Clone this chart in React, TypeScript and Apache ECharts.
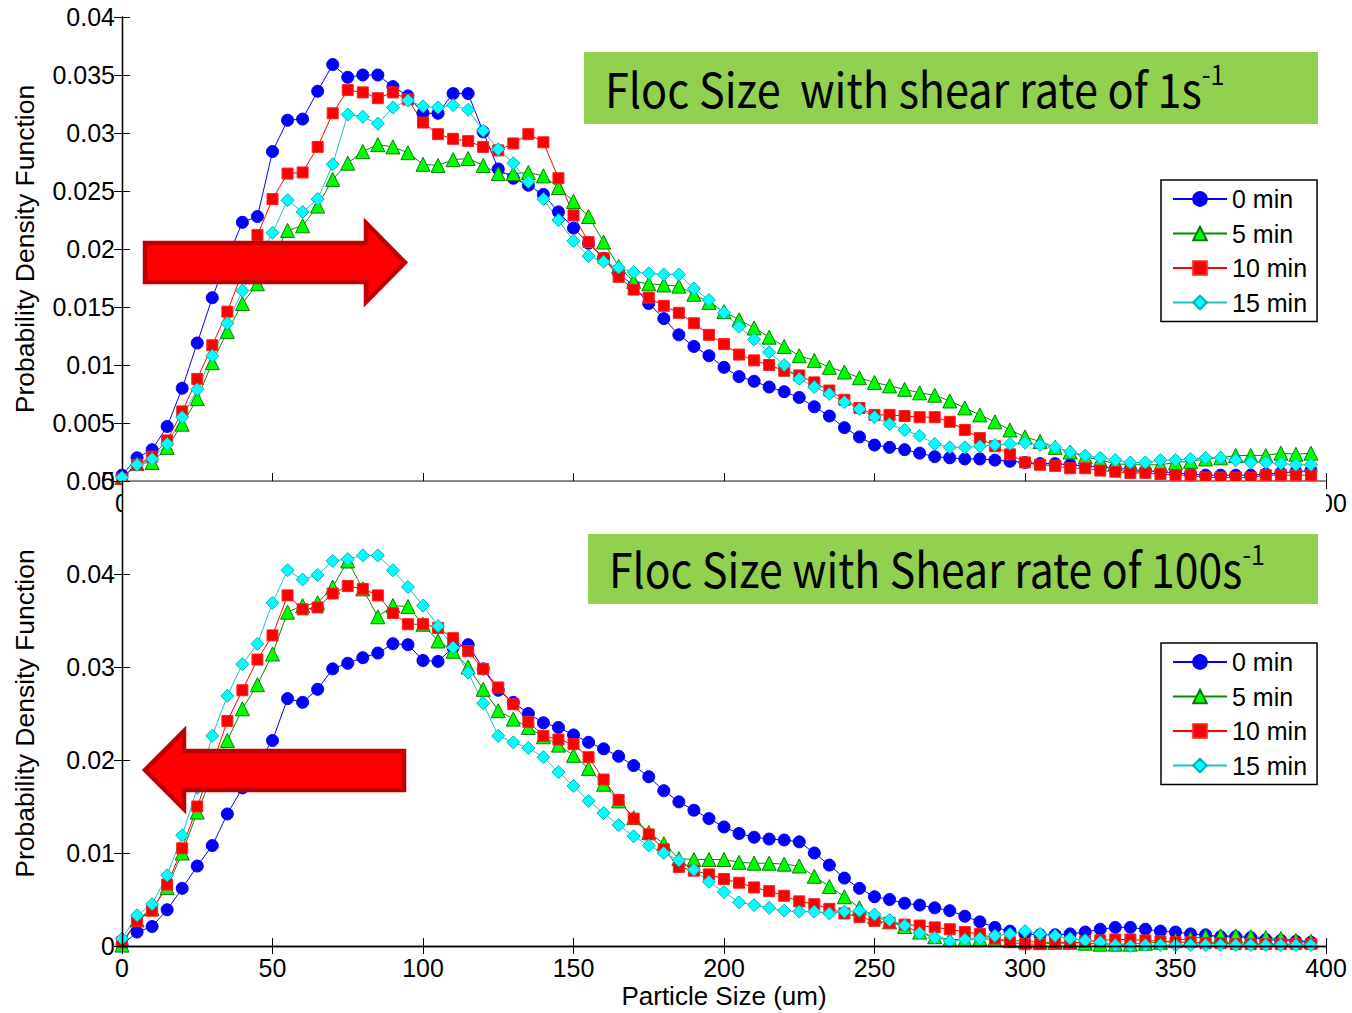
import React, { useEffect, useRef } from 'react';
import * as echarts from 'echarts';

// Particle size (um) at each measured point
const particleSizes = [
  0, 5, 10, 15, 20, 25, 30, 35, 40, 45, 50, 55, 60, 65, 70, 75, 80, 85, 90, 95,
  100, 105, 110, 115, 120, 125, 130, 135, 140, 145, 150, 155, 160, 165, 170, 175, 180, 185, 190, 195,
  200, 205, 210, 215, 220, 225, 230, 235, 240, 245, 250, 255, 260, 265, 270, 275, 280, 285, 290, 295,
  300, 305, 310, 315, 320, 325, 330, 335, 340, 345, 350, 355, 360, 365, 370, 375, 380, 385, 390, 395,
];

const seriesNames = ['0 min', '5 min', '10 min', '15 min'];

// ---- Top panel: shear rate 1 s^-1 ----
const top0min = [
  0.0005, 0.0020, 0.0027, 0.0047, 0.0080, 0.0119, 0.0158, 0.0192, 0.0223, 0.0228,
  0.0284, 0.0311, 0.0312, 0.0336, 0.0359, 0.0348, 0.0350, 0.0350, 0.0340, 0.0332,
  0.0317, 0.0317, 0.0334, 0.0334, 0.0301, 0.0269, 0.0261, 0.0255, 0.0247, 0.0232,
  0.0218, 0.0205, 0.0192, 0.0179, 0.0168, 0.0153, 0.0140, 0.0126, 0.0116, 0.0108,
  0.0098, 0.0090, 0.0086, 0.0081, 0.0077, 0.0072, 0.0064, 0.0056, 0.0046, 0.0038,
  0.0031, 0.0029, 0.0027, 0.0024, 0.0021, 0.0020, 0.0019, 0.0019, 0.0018, 0.0017,
  0.0016, 0.0015, 0.0015, 0.0014, 0.0013, 0.0012, 0.0011, 0.0010, 0.0009, 0.0008,
  0.0007, 0.0006, 0.0005, 0.0005, 0.0005, 0.0005, 0.0006, 0.0007, 0.0008, 0.0009,
];
const top5min = [
  0.0003, 0.0015, 0.0016, 0.0029, 0.0049, 0.0071, 0.0102, 0.0129, 0.0153, 0.0170,
  0.0193, 0.0216, 0.0220, 0.0237, 0.0260, 0.0274, 0.0284, 0.0290, 0.0288, 0.0283,
  0.0273, 0.0272, 0.0277, 0.0278, 0.0272, 0.0265, 0.0265, 0.0266, 0.0263, 0.0253,
  0.0241, 0.0228, 0.0206, 0.0185, 0.0172, 0.0170, 0.0169, 0.0168, 0.0161, 0.0154,
  0.0146, 0.0139, 0.0132, 0.0124, 0.0116, 0.0108, 0.0104, 0.0098, 0.0094, 0.0089,
  0.0085, 0.0082, 0.0079, 0.0076, 0.0074, 0.0069, 0.0063, 0.0057, 0.0051, 0.0044,
  0.0038, 0.0034, 0.0029, 0.0025, 0.0021, 0.0018, 0.0015, 0.0014, 0.0014, 0.0014,
  0.0016, 0.0017, 0.0019, 0.0020, 0.0022, 0.0022, 0.0022, 0.0024, 0.0023, 0.0024,
];
const top10min = [
  0.0002, 0.0014, 0.0021, 0.0035, 0.0060, 0.0088, 0.0117, 0.0146, 0.0180, 0.0212,
  0.0243, 0.0265, 0.0266, 0.0288, 0.0317, 0.0337, 0.0335, 0.0330, 0.0335, 0.0329,
  0.0309, 0.0299, 0.0295, 0.0293, 0.0288, 0.0285, 0.0291, 0.0299, 0.0292, 0.0261,
  0.0229, 0.0206, 0.0192, 0.0176, 0.0165, 0.0158, 0.0151, 0.0145, 0.0136, 0.0126,
  0.0118, 0.0109, 0.0104, 0.0100, 0.0095, 0.0091, 0.0085, 0.0078, 0.0070, 0.0063,
  0.0057, 0.0057, 0.0056, 0.0055, 0.0055, 0.0051, 0.0044, 0.0037, 0.0030, 0.0023,
  0.0016, 0.0014, 0.0013, 0.0011, 0.0011, 0.0009, 0.0008, 0.0007, 0.0007, 0.0006,
  0.0005, 0.0005, 0.0003, 0.0003, 0.0003, 0.0003, 0.0005, 0.0005, 0.0005, 0.0005,
];
const top15min = [
  0.0003, 0.0014, 0.0019, 0.0032, 0.0055, 0.0079, 0.0108, 0.0136, 0.0164, 0.0190,
  0.0214, 0.0242, 0.0232, 0.0243, 0.0273, 0.0316, 0.0314, 0.0308, 0.0322, 0.0328,
  0.0323, 0.0322, 0.0324, 0.0320, 0.0302, 0.0286, 0.0274, 0.0258, 0.0243, 0.0225,
  0.0207, 0.0194, 0.0189, 0.0184, 0.0180, 0.0179, 0.0178, 0.0178, 0.0166, 0.0156,
  0.0145, 0.0133, 0.0122, 0.0111, 0.0100, 0.0088, 0.0081, 0.0075, 0.0068, 0.0062,
  0.0055, 0.0049, 0.0044, 0.0039, 0.0032, 0.0029, 0.0029, 0.0030, 0.0031, 0.0032,
  0.0033, 0.0031, 0.0029, 0.0025, 0.0022, 0.0020, 0.0018, 0.0016, 0.0016, 0.0018,
  0.0018, 0.0019, 0.0020, 0.0020, 0.0018, 0.0016, 0.0016, 0.0015, 0.0014, 0.0014,
];

// ---- Bottom panel: shear rate 100 s^-1 ----
const bottom0min = [
  0.0001, 0.0015, 0.0021, 0.0039, 0.0062, 0.0086, 0.0108, 0.0142, 0.0170, 0.0196,
  0.0221, 0.0266, 0.0262, 0.0276, 0.0298, 0.0304, 0.0310, 0.0315, 0.0325, 0.0324,
  0.0307, 0.0306, 0.0321, 0.0324, 0.0298, 0.0275, 0.0262, 0.0250, 0.0240, 0.0235,
  0.0227, 0.0219, 0.0212, 0.0204, 0.0194, 0.0182, 0.0167, 0.0155, 0.0146, 0.0137,
  0.0128, 0.0121, 0.0117, 0.0115, 0.0114, 0.0112, 0.0100, 0.0087, 0.0073, 0.0062,
  0.0053, 0.0050, 0.0046, 0.0044, 0.0041, 0.0038, 0.0032, 0.0026, 0.0020, 0.0016,
  0.0013, 0.0012, 0.0012, 0.0013, 0.0015, 0.0018, 0.0020, 0.0020, 0.0018, 0.0016,
  0.0015, 0.0013, 0.0012, 0.0010, 0.0010, 0.0009, 0.0007, 0.0006, 0.0005, 0.0004,
];
const bottom5min = [
  0.0001, 0.0028, 0.0040, 0.0063, 0.0100, 0.0144, 0.0183, 0.0221, 0.0255, 0.0281,
  0.0314, 0.0359, 0.0366, 0.0369, 0.0386, 0.0414, 0.0384, 0.0354, 0.0366, 0.0365,
  0.0346, 0.0328, 0.0317, 0.0300, 0.0276, 0.0253, 0.0244, 0.0235, 0.0225, 0.0216,
  0.0205, 0.0191, 0.0174, 0.0156, 0.0138, 0.0122, 0.0110, 0.0094, 0.0093, 0.0093,
  0.0093, 0.0090, 0.0089, 0.0089, 0.0088, 0.0086, 0.0075, 0.0064, 0.0053, 0.0041,
  0.0032, 0.0026, 0.0021, 0.0015, 0.0010, 0.0007, 0.0007, 0.0008, 0.0007, 0.0006,
  0.0005, 0.0004, 0.0004, 0.0004, 0.0003, 0.0002, 0.0002, 0.0002, 0.0003, 0.0004,
  0.0006, 0.0008, 0.0010, 0.0011, 0.0011, 0.0010, 0.0009, 0.0008, 0.0006, 0.0005,
];
const bottom10min = [
  0.0004, 0.0027, 0.0038, 0.0066, 0.0105, 0.0150, 0.0195, 0.0242, 0.0275, 0.0308,
  0.0334, 0.0377, 0.0362, 0.0364, 0.0379, 0.0387, 0.0384, 0.0377, 0.0358, 0.0346,
  0.0346, 0.0342, 0.0331, 0.0317, 0.0298, 0.0278, 0.0260, 0.0241, 0.0226, 0.0222,
  0.0217, 0.0203, 0.0179, 0.0157, 0.0137, 0.0120, 0.0104, 0.0085, 0.0081, 0.0077,
  0.0072, 0.0068, 0.0063, 0.0059, 0.0054, 0.0048, 0.0045, 0.0040, 0.0035, 0.0031,
  0.0027, 0.0025, 0.0023, 0.0022, 0.0020, 0.0018, 0.0015, 0.0013, 0.0008, 0.0004,
  0.0002, 0.0002, 0.0003, 0.0003, 0.0005, 0.0006, 0.0007, 0.0007, 0.0006, 0.0005,
  0.0004, 0.0004, 0.0003, 0.0003, 0.0002, 0.0002, 0.0002, 0.0002, 0.0002, 0.0002,
];
const bottom15min = [
  0.0008, 0.0033, 0.0045, 0.0076, 0.0119, 0.0170, 0.0226, 0.0269, 0.0303, 0.0325,
  0.0369, 0.0404, 0.0394, 0.0399, 0.0414, 0.0416, 0.0420, 0.0420, 0.0404, 0.0386,
  0.0366, 0.0344, 0.0321, 0.0294, 0.0261, 0.0226, 0.0219, 0.0213, 0.0203, 0.0187,
  0.0172, 0.0156, 0.0143, 0.0130, 0.0118, 0.0108, 0.0100, 0.0092, 0.0082, 0.0069,
  0.0058, 0.0047, 0.0044, 0.0041, 0.0038, 0.0037, 0.0037, 0.0035, 0.0037, 0.0038,
  0.0034, 0.0028, 0.0022, 0.0014, 0.0009, 0.0005, 0.0007, 0.0008, 0.0011, 0.0013,
  0.0016, 0.0013, 0.0011, 0.0008, 0.0006, 0.0004, 0.0001, 0.0000, 0.0001, 0.0001,
  0.0001, 0.0001, 0.0001, 0.0001, 0.0001, 0.0001, 0.0001, 0.0001, 0.0001, 0.0001,
];

const topPanelValues = [top0min, top5min, top10min, top15min];
const bottomPanelValues = [bottom0min, bottom5min, bottom10min, bottom15min];

const xTickLabels = ['0', '50', '100', '150', '200', '250', '300', '350', '400'];
const topTitle = 'Floc Size  with shear rate of 1s';
const bottomTitle = 'Floc Size with Shear rate of 100s';
const xAxisTitle = 'Particle Size (um)';
const yAxisTitle = 'Probability Density Function';

const markerStyles = [
  { symbol: 'circle', size: 12, line: '#0000FF', fill: '#0000FF', border: '#0000FF' },
  { symbol: 'triangle', size: 14, line: '#008C00', fill: '#00FF00', border: '#008000' },
  { symbol: 'rect', size: 11, line: '#FF0000', fill: '#FF0000', border: '#FF2020' },
  { symbol: 'diamond', size: 13, line: '#20C0C0', fill: '#00FFFF', border: '#00B4B4' },
];

const AXIS_FONT = "'Liberation Sans', Arial, sans-serif";
const TITLE_FONT = "'Noto Sans CJK KR', 'Noto Sans', sans-serif";

const fmtY = (v: number) => (v === 0 ? '0' : String(parseFloat(v.toFixed(4))));

export default function App() {
  const ref = useRef<HTMLDivElement>(null);

  useEffect(() => {
    if (!ref.current) return;
    const chart = echarts.init(ref.current, null, { renderer: 'svg' });

    const axisLine = { show: true, lineStyle: { color: '#000', width: 1.3 } };
    const axisTick = { show: true, inside: true, length: 8, lineStyle: { color: '#000', width: 1 } };
    const labelStyle = { fontSize: 25, color: '#000', fontFamily: AXIS_FONT };

    const makeX = (gridIndex: number, position: string, showLabel: boolean, z: number, extra: any = {}) => ({
      type: 'value',
      gridIndex,
      position,
      min: 0,
      max: 400,
      interval: 50,
      axisLine,
      axisTick,
      splitLine: { show: false },
      axisLabel: {
        show: showLabel,
        margin: 9,
        showMinLabel: true,
        showMaxLabel: true,
        ...labelStyle,
        formatter: (v: number) => xTickLabels[Math.round(v / 50)] ?? String(v),
      },
      z,
      ...extra,
    });

    const makeY = (gridIndex: number, position: string, max: number, interval: number, showLabel: boolean, z: number, extra: any = {}) => ({
      type: 'value',
      gridIndex,
      position,
      min: 0,
      max,
      interval,
      axisLine,
      axisTick,
      splitLine: { show: false },
      axisLabel: {
        show: showLabel,
        margin: 7,
        showMinLabel: true,
        showMaxLabel: true,
        ...labelStyle,
        formatter: fmtY,
      },
      z,
      ...extra,
    });

    const yName = {
      name: yAxisTitle,
      nameLocation: 'middle',
      nameRotate: 90,
      nameGap: 84,
      nameTextStyle: { fontSize: 26.5, color: '#000', fontFamily: AXIS_FONT },
    };

    const series: any[] = [];
    topPanelValues.forEach((vals, i) => {
      const st = markerStyles[i];
      series.push({
        name: seriesNames[i],
        type: 'line',
        xAxisIndex: 0,
        yAxisIndex: 0,
        data: particleSizes.map((x, k) => [x, vals[k]]),
        symbol: st.symbol,
        symbolSize: st.size,
        showAllSymbol: true,
        lineStyle: { color: st.line, width: 1 },
        itemStyle: { color: st.fill, borderColor: st.border, borderWidth: 1 },
        z: 1,
      });
    });
    bottomPanelValues.forEach((vals, i) => {
      const st = markerStyles[i];
      series.push({
        name: seriesNames[i],
        type: 'line',
        xAxisIndex: 2,
        yAxisIndex: 2,
        data: particleSizes.map((x, k) => [x, vals[k]]),
        symbol: st.symbol,
        symbolSize: st.size,
        showAllSymbol: true,
        lineStyle: { color: st.line, width: 1 },
        itemStyle: { color: st.fill, borderColor: st.border, borderWidth: 1 },
        z: 3,
      });
    });

    const legendBase = {
      data: seriesNames,
      orient: 'vertical',
      left: 1161,
      padding: [6, 10, 6, 11],
      itemGap: 8.5,
      itemWidth: 54,
      itemHeight: 17,
      textStyle: { fontSize: 25, color: '#000', fontFamily: AXIS_FONT, lineHeight: 26 },
      borderColor: '#000',
      borderWidth: 1.5,
      borderRadius: 0,
      backgroundColor: '#fff',
      selectedMode: false,
      z: 5,
    };

    const richTitle = (main: string) => ({
      text: `{a|${main}}{b|-1}`,
      rich: {
        a: { fontSize: 48, fontFamily: TITLE_FONT, fill: '#000', lineHeight: 56 },
        b: { fontSize: 28, fontFamily: TITLE_FONT, fill: '#000', lineHeight: 36, verticalAlign: 'top' },
      },
      verticalAlign: 'middle',
      align: 'left',
    });

    const option: any = {
      animation: false,
      backgroundColor: '#fff',
      textStyle: { fontFamily: AXIS_FONT },
      grid: [
        { left: 122, top: 17, width: 1204, height: 464, containLabel: false },
        { left: 122, top: 481, width: 1204, height: 465, containLabel: false },
      ],
      xAxis: [
        makeX(0, 'bottom', true, 0),
        makeX(0, 'top', false, 0),
        makeX(1, 'bottom', true, 4, {
          name: xAxisTitle,
          nameLocation: 'middle',
          nameGap: 37,
          nameTextStyle: { fontSize: 26, color: '#000', fontFamily: AXIS_FONT },
        }),
        makeX(1, 'top', false, 4),
      ],
      yAxis: [
        makeY(0, 'left', 0.04, 0.005, true, 0, yName),
        makeY(0, 'right', 0.04, 0.005, false, 0),
        makeY(1, 'left', 0.05, 0.01, true, 4, yName),
        makeY(1, 'right', 0.05, 0.01, false, 4),
      ],
      legend: [
        { ...legendBase, top: 180 },
        { ...legendBase, top: 643 },
      ],
      series,
      graphic: [
        // lower axes cover the upper axes' tick labels, as in the original figure
        {
          type: 'rect',
          shape: { x: 122, y: 481.5, width: 1204, height: 464.5 },
          style: { fill: '#fff' },
          z: 2,
          silent: true,
        },
        // right-pointing arrow (top panel)
        {
          type: 'polygon',
          shape: {
            points: [
              [145, 243], [366, 243], [366, 223], [405, 262.5], [366, 302], [366, 282], [145, 282],
            ],
          },
          style: { fill: '#FF0000', stroke: '#C00000', lineWidth: 4.5, lineJoin: 'miter' },
          z: 6,
        },
        // left-pointing arrow (bottom panel)
        {
          type: 'polygon',
          shape: {
            points: [
              [145, 770], [184, 731], [184, 751], [404, 751], [404, 790], [184, 790], [184, 809],
            ],
          },
          style: { fill: '#FF0000', stroke: '#C00000', lineWidth: 4.5, lineJoin: 'miter' },
          z: 6,
        },
        {
          type: 'rect',
          shape: { x: 584, y: 52, width: 734, height: 72 },
          style: { fill: '#92D050' },
          z: 6,
        },
        {
          type: 'text',
          x: 605,
          y: 87,
          scaleX: 0.9,
          style: richTitle(topTitle),
          z: 7,
        },
        {
          type: 'rect',
          shape: { x: 588, y: 534, width: 730, height: 70 },
          style: { fill: '#92D050' },
          z: 6,
        },
        {
          type: 'text',
          x: 609,
          y: 567,
          scaleX: 0.89,
          style: richTitle(bottomTitle),
          z: 7,
        },
      ],
    };

    chart.setOption(option);
    return () => chart.dispose();
  }, []);

  return (
    <div
      ref={ref}
      style={{ position: 'fixed', left: 0, top: 0, width: 1352, height: 1013, background: '#fff' }}
    />
  );
}
